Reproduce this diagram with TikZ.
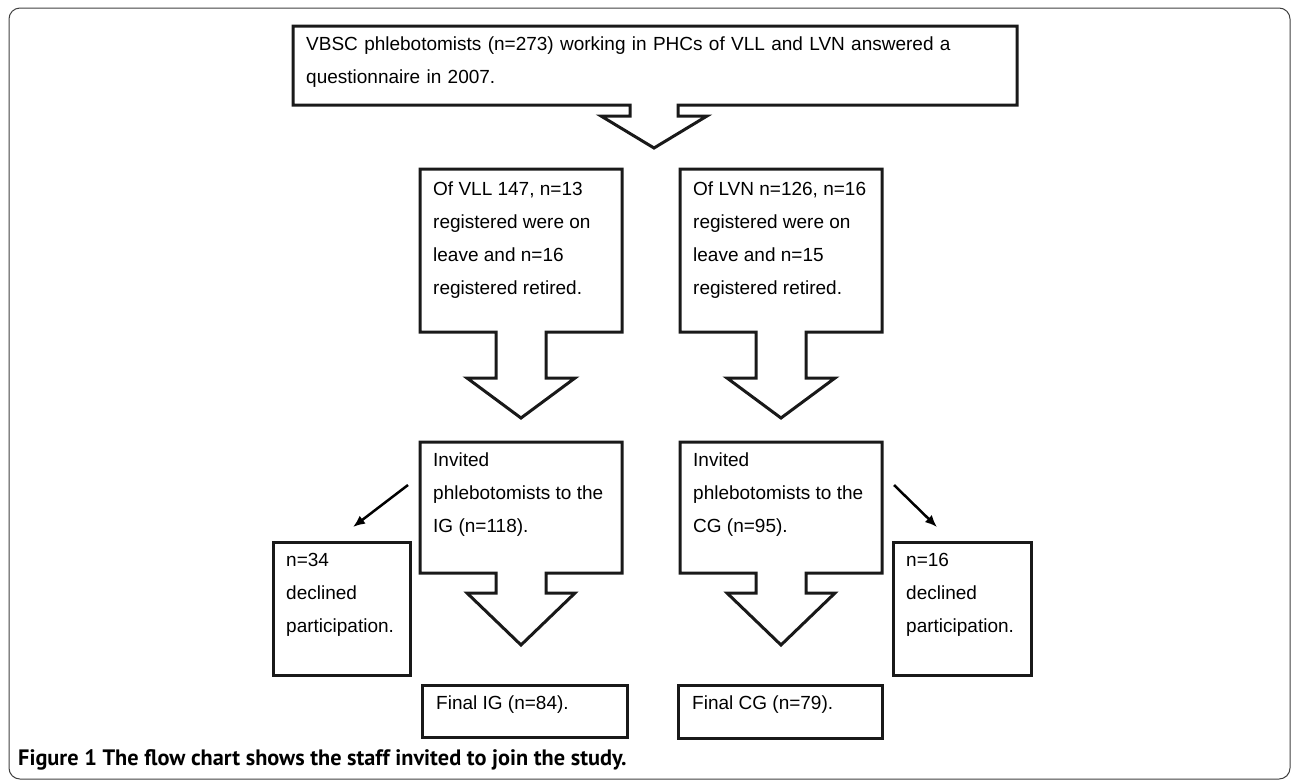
\documentclass[tikz,border=0pt]{standalone}
\usepackage{fontspec}
\setmainfont{Liberation Sans}
\newfontfamily\capfont{PT Sans}
\usetikzlibrary{arrows.meta}

\begin{document}
\begin{tikzpicture}[x=1pt,y=-1pt,
  area/.style={anchor=north west,inner sep=0pt,outer sep=0pt},
  outline/.style={line width=3pt,color=black!90},
  txt/.style={anchor=north west,inner sep=0pt,align=left,font=\fontsize{19}{33}\selectfont},
  decl/.style={line width=2.5pt,-{Latex[length=12pt,width=10pt]}}]

\useasboundingbox (0,0) rectangle (1292,780);
\draw [line width=1pt,black!75,rounded corners=11pt] (9,779) rectangle (1290,8);

% survey
\node [area,minimum width=724pt,minimum height=79pt] (survey) at (293,26) {};
\draw [outline] (survey.north west) -- (survey.north east) -- (survey.south east)
  -- ([xshift=23pt]survey.south) -- ++(0,11) -- ++(29,0) -- ++(-53,32) -- ++(-53,-32)
  -- ++(29,0) -- ++(0,-11) -- (survey.south west) -- cycle;
\node [txt,text width=697pt] (surveytxt) at (306,37) {\makebox[697pt][s]{VBSC phlebotomists (n=273) working in PHCs of VLL and LVN answered a}\\questionnaire in 2007.};

% VLL / LVN
\node [area,minimum width=202pt,minimum height=163pt] (vll) at (420,169) {};
\draw [outline] (vll.north west) -- (vll.north east) -- (vll.south east)
  -- ([xshift=25pt]vll.south) -- ++(0,46) -- ++(29,0) -- ++(-54,40) -- ++(-54,-40)
  -- ++(29,0) -- ++(0,-46) -- (vll.south west) -- cycle;
\node [txt] (vlltxt) at (433,182) {Of VLL 147, n=13\\registered were on\\leave and n=16\\registered retired.};

\node [area,minimum width=202pt,minimum height=163pt] (lvn) at (680,169) {};
\draw [outline] (lvn.north west) -- (lvn.north east) -- (lvn.south east)
  -- ([xshift=25pt]lvn.south) -- ++(0,46) -- ++(29,0) -- ++(-54,40) -- ++(-54,-40)
  -- ++(29,0) -- ++(0,-46) -- (lvn.south west) -- cycle;
\node [txt] (lvntxt) at (693,182) {Of LVN n=126, n=16\\registered were on\\leave and n=15\\registered retired.};

% invited
\node [area,minimum width=202pt,minimum height=131pt] (ig) at (420,442) {};
\draw [outline] (ig.north west) -- (ig.north east) -- (ig.south east)
  -- ([xshift=25pt]ig.south) -- ++(0,20) -- ++(29,0) -- ++(-54,52) -- ++(-54,-52)
  -- ++(29,0) -- ++(0,-20) -- (ig.south west) -- cycle;
\node [txt] (igtxt) at (433,453) {Invited\\phlebotomists to the\\IG (n=118).};

\node [area,minimum width=202pt,minimum height=131pt] (cg) at (680,442) {};
\draw [outline] (cg.north west) -- (cg.north east) -- (cg.south east)
  -- ([xshift=25pt]cg.south) -- ++(0,20) -- ++(29,0) -- ++(-54,52) -- ++(-54,-52)
  -- ++(29,0) -- ++(0,-20) -- (cg.south west) -- cycle;
\node [txt] (cgtxt) at (693,453) {Invited\\phlebotomists to the\\CG (n=95).};

% declined
\node [area,outline,draw,minimum width=137pt,minimum height=133pt] (decl34) at (273,542) {};
\node [txt] (decl34txt) at (286,553) {n=34\\declined\\participation.};
\node [area,outline,draw,minimum width=138pt,minimum height=133pt] (decl16) at (893,542) {};
\node [txt] (decl16txt) at (906,553) {n=16\\declined\\participation.};

\draw [decl] ([xshift=-12pt,yshift=-43pt]ig.north west) -- ([xshift=80pt,yshift=15pt]decl34.north west);
\draw [decl] ([xshift=12pt,yshift=-43pt]cg.north east) -- ([xshift=44pt,yshift=15pt]decl16.north west);

% final
\node [area,outline,draw,minimum width=205pt,minimum height=52pt] (finig) at (422,685) {};
\node [txt] (finigtxt) at (436,696) {Final IG (n=84).};
\node [area,outline,draw,minimum width=204pt,minimum height=53pt] (fincg) at (678,685) {};
\node [txt] (fincgtxt) at (692,696) {Final CG (n=79).};

\node [anchor=base west,inner sep=0pt,font=\capfont\bfseries\fontsize{22.3}{26}\selectfont] (caption) at (18,765) {Figure 1 The flow chart shows the staff invited to join the study.};
\end{tikzpicture}
\end{document}
